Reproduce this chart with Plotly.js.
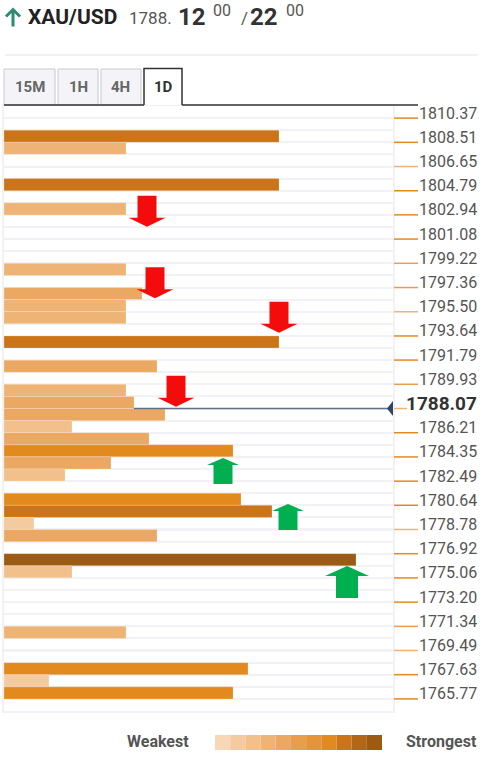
<!DOCTYPE html>
<html><head><meta charset="utf-8">
<script src="https://cdn.plot.ly/plotly-3.0.1.min.js"></script>
<style>html,body{margin:0;padding:0;background:#fff;}#chart{width:484px;height:762px;}</style>
</head><body><div id="chart"></div>
<script>
// ---------- DATA ----------
const symbol = 'XAU/USD';
const quoteBase = '1788.';
const bidBig = '12', bidSup = '00', askBig = '22', askSup = '00';
const timeframes = ['15M', '1H', '4H', '1D'];
const activeTimeframe = '1D';

// price scale tick labels (top to bottom)
const priceLevels = [1810.37, 1808.51, 1806.65, 1804.79, 1802.94, 1801.08, 1799.22, 1797.36,
  1795.50, 1793.64, 1791.79, 1789.93, 1788.07, 1786.21, 1784.35, 1782.49, 1780.64, 1778.78,
  1776.92, 1775.06, 1773.20, 1771.34, 1769.49, 1767.63, 1765.77];
const priceLabels = priceLevels.map(v => v.toFixed(2));
const currentPrice = 1788.07;
// strength of the tick marks (1-11 scale)
const tickShade = [8, 8, 4, 8, 8, 8, 6, 6, 4, 8, 8, 6, 4, 8, 8, 8, 8, 4, 8, 8, 8, 6, 4, 8, 8];

// confluence bars: level (price), strength (bar length), shade (1 weakest - 11 strongest)
const barLevels = [1808.98, 1808.05, 1805.26, 1803.40, 1798.75, 1796.90, 1795.97, 1795.04,
  1793.18, 1791.32, 1789.46, 1788.53, 1787.60, 1786.68, 1785.75, 1784.82, 1783.89, 1782.96,
  1781.10, 1780.17, 1779.24, 1778.31, 1776.46, 1775.53, 1770.88, 1768.09, 1767.16, 1766.23];
const barStrength = [275, 122, 275, 122, 122, 138, 122, 122,
  275, 153, 122, 130, 161, 68, 145, 229, 107, 61,
  237, 268, 30, 153, 352, 68, 122, 244, 45, 229];
const barShade = [9, 4, 9, 4, 4, 5, 4, 4,
  9, 5, 4, 5, 5, 3, 5, 8, 5, 3,
  8, 9, 2, 5, 11, 3, 4, 8, 2, 8];

// direction arrows: tip level, horizontal position, direction, size class
const arrowLevels = [1802.03, 1796.53, 1793.89, 1788.21, 1784.27, 1780.74, 1775.97];
const arrowX = [143, 151, 275, 172, 219, 284, 343];
const arrowDir = ['down', 'down', 'down', 'down', 'up', 'up', 'up'];
const arrowSize = ['m', 'm', 'm', 'm', 's', 's', 'l'];

const legendLow = 'Weakest', legendHigh = 'Strongest';

// ---------- STYLE ----------
const palette = ['#f7d7b5', '#f4cba1', '#f1c08b', '#eeb475', '#eba862', '#e99e4e',
  '#e6943a', '#e38a1f', '#cc7418', '#b36716', '#9c5b12'];
const FONT = 'Roboto, "Open Sans", sans-serif';
const PL = 4, PT = 106, PW = 389, PH = 605;
const px = x => (x - PL) / PW;
const py = y => (PT + PH - y) / PH;
const ROW = (priceLevels[0] - priceLevels[priceLevels.length - 1]) / ((priceLevels.length - 1) * 2);
const yTop = priceLevels[0] + ROW;
const yBot = priceLevels[priceLevels.length - 1] - ROW;
const GRID = '#f1f1f6';

const shapes = [];
const annotations = [];

// header
shapes.push({type: 'path', xref: 'paper', yref: 'paper', xsizemode: 'pixel', ysizemode: 'pixel',
  xanchor: px(13), yanchor: py(17.5), path: 'M 0,-9 L 0,8 M -7,1 L 0,8 L 7,1',
  line: {color: '#2e8b73', width: 3}, fillcolor: 'rgba(0,0,0,0)'});
function txt(text, x, y, size, color, bold, anchor) {
  annotations.push({text: bold ? '<b>' + text + '</b>' : text, xref: 'paper', yref: 'paper',
    x: px(x), y: py(y), xanchor: anchor || 'left', yanchor: 'middle', showarrow: false,
    font: {family: FONT, size: size, color: color}, borderpad: 0});
}
txt(symbol, 27, 17.5, 21, '#222', true);
txt(quoteBase, 128, 18.5, 17, '#555', false);
txt(bidBig, 177, 16.5, 24, '#333', true);
txt(bidSup, 212, 10.5, 16, '#555', false);
txt('/', 240, 18.5, 17, '#555', false);
txt(askBig, 249, 16.5, 24, '#333', true);
txt(askSup, 285, 10.5, 16, '#555', false);
shapes.push({type: 'line', xref: 'paper', yref: 'paper', x0: px(5), x1: px(478), y0: py(55), y1: py(55),
  line: {color: '#ececef', width: 1.5}});

// tabs
const tabX = [[4, 55], [58, 98], [101, 141], [144, 182]];
timeframes.forEach((t, i) => {
  const [a, b] = tabX[i];
  const active = t === activeTimeframe;
  if (active) {
    shapes.push({type: 'path', xref: 'paper', yref: 'paper',
      path: `M ${px(a)},${py(105)} L ${px(a)},${py(68.5)} L ${px(b)},${py(68.5)} L ${px(b)},${py(105)}`,
      line: {color: '#333', width: 1.5}, fillcolor: '#fff'});
  } else {
    shapes.push({type: 'rect', xref: 'paper', yref: 'paper', x0: px(a), x1: px(b), y0: py(105), y1: py(69),
      fillcolor: '#f4f4f8', line: {color: '#c8c8ce', width: 1}});
  }
  txt(t, (a + b) / 2, 87, 15, active ? '#333' : '#666', true, 'center');
});
shapes.push({type: 'line', xref: 'paper', yref: 'paper', x0: px(4), x1: px(144), y0: py(105), y1: py(105),
  line: {color: '#333', width: 1.5}});
shapes.push({type: 'line', xref: 'paper', yref: 'paper', x0: px(182), x1: px(418), y0: py(105), y1: py(105),
  line: {color: '#333', width: 1.5}});

// price scale ticks and labels
priceLevels.forEach((p, i) => {
  const cur = Math.abs(p - currentPrice) < 1e-6;
  shapes.push({type: 'line', xref: 'paper', yref: 'y', xsizemode: 'pixel', xanchor: 1,
    x0: 1, x1: cur ? 14 : 25, y0: p, y1: p,
    line: {color: palette[tickShade[i] - 1], width: 1.5}});
  annotations.push({text: cur ? '<b>' + priceLabels[i] + '</b>' : priceLabels[i],
    xref: 'paper', yref: 'y', x: 1, y: p, xanchor: 'right', xshift: 85, yanchor: 'middle', yshift: 5,
    showarrow: false, borderpad: 0,
    font: {family: FONT, size: cur ? 19 : 16, color: cur ? '#333' : '#555'}});
});

// current price line + marker
const above = barLevels.filter(v => v > currentPrice);
const barAbove = barStrength[barLevels.indexOf(Math.min(...above))];
shapes.push({type: 'line', xref: 'x', yref: 'y', x0: barAbove, x1: PW, y0: currentPrice, y1: currentPrice,
  line: {color: '#5e738b', width: 1.3}});
shapes.push({type: 'path', xref: 'paper', yref: 'y', xsizemode: 'pixel', ysizemode: 'pixel',
  xanchor: 1, yanchor: currentPrice, path: 'M -6,0 L 0,7.5 L 0,-7.5 Z',
  fillcolor: '#2c4764', line: {width: 0}});

// arrows
const arrowDims = {m: [18.5, 9.5, 31, 9], s: [16, 9.5, 26, 7], l: [22, 11, 32, 10]};
arrowLevels.forEach((lv, i) => {
  const [W, w, H, h] = arrowDims[arrowSize[i]];
  const s = arrowDir[i] === 'down' ? 1 : -1;
  const path = `M ${-w},${s * H} L ${w},${s * H} L ${w},${s * h} L ${W},${s * h} L 0,0 L ${-W},${s * h} L ${-w},${s * h} Z`;
  shapes.push({type: 'path', xref: 'x', yref: 'y', xsizemode: 'pixel', ysizemode: 'pixel',
    xanchor: arrowX[i], yanchor: lv, path: path,
    fillcolor: arrowDir[i] === 'down' ? '#f40c0c' : '#00b050', line: {width: 0}});
});

// legend
txt(legendLow, 126, 741, 16, '#555', true);
txt(legendHigh, 405, 741, 16, '#555', true);
palette.forEach((c, i) => {
  const x0 = 215 + i * (167 / palette.length);
  shapes.push({type: 'rect', xref: 'paper', yref: 'paper', x0: px(x0), x1: px(x0 + 167 / palette.length),
    y0: py(750), y1: py(735), fillcolor: c, line: {width: 0}});
});

const trace = {
  type: 'bar', orientation: 'h', x: barStrength, y: barLevels, width: ROW,
  marker: {color: barShade.map(s => palette[s - 1]), line: {color: 'rgba(255,255,255,0.35)', width: 0.6}},
  hoverinfo: 'skip'
};

const layout = {
  width: 484, height: 762,
  margin: {l: PL, r: 484 - PL - PW, t: PT, b: 762 - PT - PH},
  paper_bgcolor: '#fff', plot_bgcolor: '#fff', showlegend: false, bargap: 0,
  font: {family: FONT},
  xaxis: {range: [0, PW], showgrid: false, zeroline: false, showticklabels: false, ticks: '',
    showline: true, mirror: true, linecolor: GRID, linewidth: 2, fixedrange: true},
  yaxis: {range: [yBot, yTop], tickmode: 'array', tickvals: priceLevels, showticklabels: false, ticks: '',
    showgrid: true, gridcolor: GRID, gridwidth: 2, zeroline: false, showline: true, mirror: true,
    linecolor: GRID, linewidth: 2, fixedrange: true,
    minor: {tick0: priceLevels[0], dtick: ROW, showgrid: true, gridcolor: GRID, gridwidth: 2, ticks: ''}},
  shapes: shapes, annotations: annotations
};

Plotly.newPlot('chart', [trace], layout, {displayModeBar: false, staticPlot: true});
</script></body></html>
